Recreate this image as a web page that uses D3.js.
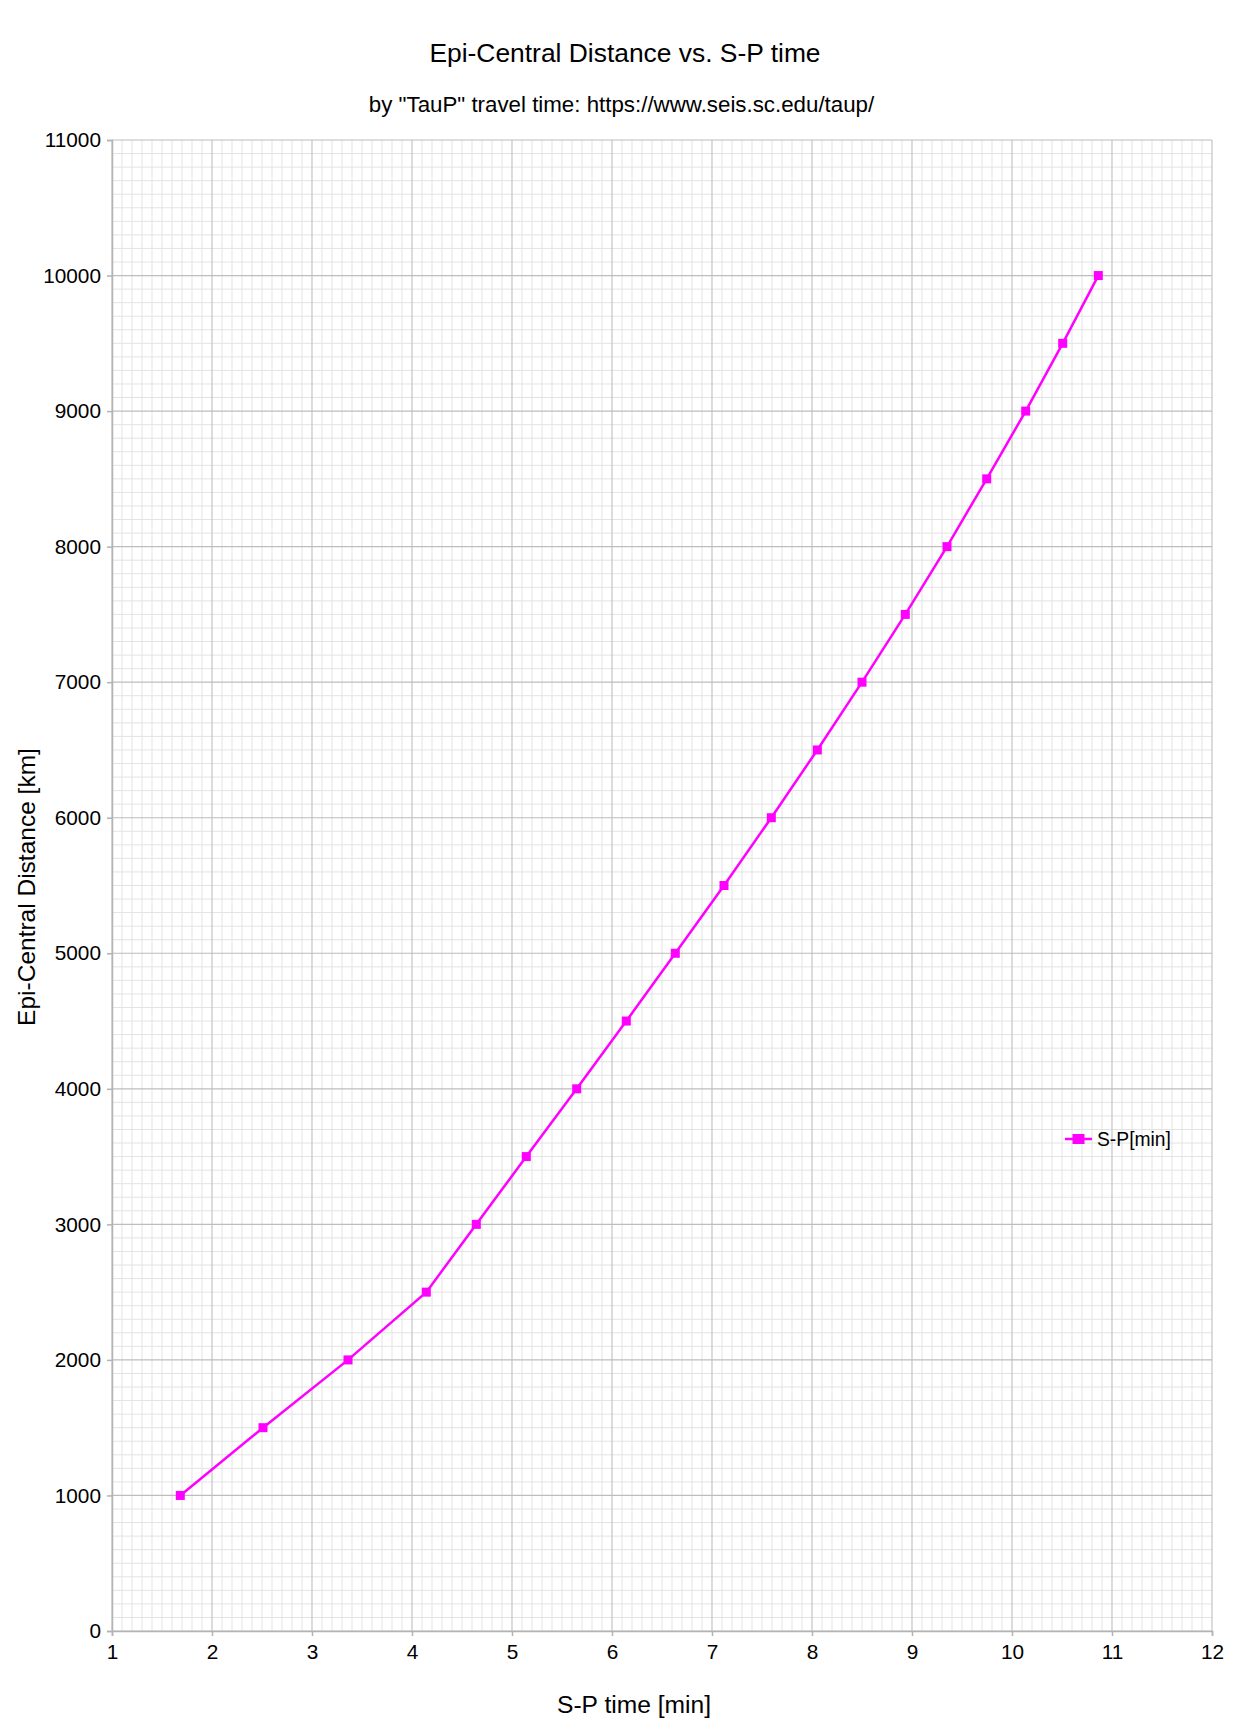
<!DOCTYPE html>
<html>
<head>
<meta charset="utf-8">
<script src="https://cdn.jsdelivr.net/npm/d3@7"></script>
<style>
  html, body { margin: 0; padding: 0; background: #ffffff; }
  svg { display: block; }
  text { font-family: "Liberation Sans", Arial, sans-serif; fill: #000; }
</style>
</head>
<body>
<svg id="chart" width="1243" height="1733"></svg>
<script>
// ---- data ----
const distances = [1000, 1500, 2000, 2500, 3000, 3500, 4000, 4500, 5000, 5500, 6000, 6500, 7000, 7500, 8000, 8500, 9000, 9500, 10000];
const spTimes = [1.683, 2.51, 3.36, 4.143, 4.643, 5.143, 5.647, 6.143, 6.633, 7.12, 7.593, 8.053, 8.5, 8.933, 9.35, 9.747, 10.137, 10.507, 10.863];
const xTicks = [1, 2, 3, 4, 5, 6, 7, 8, 9, 10, 11, 12];
const yTicks = [0, 1000, 2000, 3000, 4000, 5000, 6000, 7000, 8000, 9000, 10000, 11000];
const seriesName = "S-P[min]";
const titleText = "Epi-Central Distance vs. S-P time";
const subtitleText = "by \"TauP\" travel time: https://www.seis.sc.edu/taup/";
const xTitle = "S-P time [min]";
const yTitle = "Epi-Central Distance [km]";

// ---- layout ----
const svg = d3.select("#chart");
const pL = 112, pR = 1212, pT = 140, pB = 1631;
const x = d3.scaleLinear().domain([1, 12]).range([pL, pR]);
const y = d3.scaleLinear().domain([0, 11000]).range([pB, pT]);
const color = "#ff00ff";

// minor grid
const xMinor = d3.range(10, 121).map(v => v / 10).filter(v => Math.abs(v - Math.round(v)) > 1e-6);
const yMinor = d3.range(0, 11001, 100).filter(v => v % 1000 !== 0);
const g = svg.append("g");
g.append("g").selectAll("line").data(xMinor).join("line")
  .attr("x1", d => x(d)).attr("x2", d => x(d)).attr("y1", pT).attr("y2", pB)
  .attr("stroke", "#e3e3e3").attr("stroke-width", 1);
g.append("g").selectAll("line").data(yMinor).join("line")
  .attr("x1", pL).attr("x2", pR).attr("y1", d => y(d)).attr("y2", d => y(d))
  .attr("stroke", "#e3e3e3").attr("stroke-width", 1);
// major grid
g.append("g").selectAll("line").data(xTicks).join("line")
  .attr("x1", d => x(d)).attr("x2", d => x(d)).attr("y1", pT).attr("y2", pB)
  .attr("stroke", "#c4c4c4").attr("stroke-width", 1.2);
g.append("g").selectAll("line").data(yTicks).join("line")
  .attr("x1", pL).attr("x2", pR).attr("y1", d => y(d)).attr("y2", d => y(d))
  .attr("stroke", "#bdbdbd").attr("stroke-width", 1.2);

// axes
const xAxis = d3.axisBottom(x).tickValues(xTicks).tickSize(5).tickPadding(8).tickFormat(d3.format("d"));
const yAxis = d3.axisLeft(y).tickValues(yTicks).tickSize(5).tickPadding(6).tickFormat(d3.format("d"));
const gx = svg.append("g").attr("transform", `translate(0,${pB})`).call(xAxis);
const gy = svg.append("g").attr("transform", `translate(${pL},0)`).call(yAxis);
[gx, gy].forEach(a => {
  a.select(".domain").attr("stroke", "#b3b3b3").attr("stroke-width", 1.5);
  a.selectAll(".tick line").attr("stroke", "#b3b3b3").attr("stroke-width", 1.5);
  a.selectAll(".tick text").attr("font-family", "Liberation Sans, Arial, sans-serif").attr("font-size", 20.8).attr("fill", "#000");
});

// series
const line = d3.line().x((d, i) => x(spTimes[i])).y(d => y(d));
svg.append("path").datum(distances)
  .attr("d", line).attr("fill", "none").attr("stroke", color).attr("stroke-width", 2.5);
const ms = 9;
svg.append("g").selectAll("rect").data(distances).join("rect")
  .attr("x", (d, i) => x(spTimes[i]) - ms / 2).attr("y", d => y(d) - ms / 2)
  .attr("width", ms).attr("height", ms).attr("fill", color);

// legend
const ly = 1139;
svg.append("line").attr("x1", 1065).attr("x2", 1092).attr("y1", ly).attr("y2", ly)
  .attr("stroke", color).attr("stroke-width", 2.5);
svg.append("rect").attr("x", 1078.5 - 6).attr("y", ly - 5).attr("width", 12).attr("height", 10).attr("fill", color);
svg.append("text").attr("x", 1097).attr("y", ly).attr("dy", "0.35em").attr("font-size", 19.3).text(seriesName);

// titles
svg.append("text").attr("x", 625).attr("y", 62).attr("text-anchor", "middle").attr("font-size", 26.4).text(titleText);
svg.append("text").attr("x", 621.5).attr("y", 112).attr("text-anchor", "middle").attr("font-size", 22.3).text(subtitleText);
svg.append("text").attr("x", 634).attr("y", 1713).attr("text-anchor", "middle").attr("font-size", 24.6).text(xTitle);
svg.append("text").attr("transform", "translate(35,887) rotate(-90)").attr("text-anchor", "middle").attr("font-size", 24.5).text(yTitle);
</script>
</body>
</html>
